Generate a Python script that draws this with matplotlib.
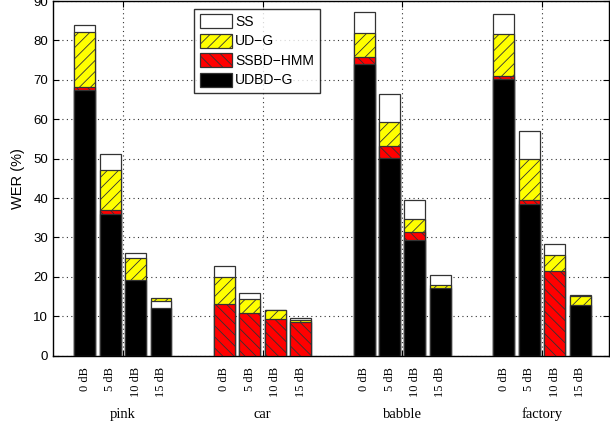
import numpy as np
import matplotlib.pyplot as plt
from matplotlib.transforms import blended_transform_factory

plt.rcParams['font.family'] = ['Liberation Sans', 'DejaVu Sans']
plt.rcParams['hatch.linewidth'] = 0.6
plt.rcParams['hatch.color'] = '#333333'

noises = ['pink', 'car', 'babble', 'factory']
snrs = ['0 dB', '5 dB', '10 dB', '15 dB']
methods = ['SS', 'UD\u2212G', 'SSBD\u2212HMM', 'UDBD\u2212G']

# WER (%) per noise type, SNR order 0/5/10/15 dB (nan = not shown)
wer_ss = [84.0, 51.1, 26.1, 13.9,
          22.8, 15.8, 11.7, 9.5,
          87.3, 66.4, 39.4, 20.4,
          86.7, 57.1, 28.3, 15.3]
wer_udg = [82.2, 47.1, 24.7, 14.6,
           19.9, 14.3, 11.5, 9.1,
           81.9, 59.2, 34.7, 18.0,
           81.6, 50.0, 25.6, 15.1]
wer_ssbd = [68.2, 37.0, np.nan, np.nan,
            13.0, 10.8, 9.3, 8.5,
            75.9, 53.3, 31.5, np.nan,
            71.1, 39.5, 21.4, np.nan]
wer_udbd = [67.4, 35.9, 19.2, 12.2,
            np.nan, np.nan, np.nan, np.nan,
            74.0, 50.1, 29.4, 17.2,
            70.2, 38.6, np.nan, 12.9]

series = [wer_ss, wer_udg, wer_ssbd, wer_udbd]
styles = [dict(color='white', hatch=None),
          dict(color='#ffff00', hatch='///'),
          dict(color='#ff0000', hatch='\\\\\\'),
          dict(color='black', hatch=None)]

fig = plt.figure(figsize=(6.1, 4.29), dpi=100)
ax = fig.add_axes([0.0869, 0.1709, 0.9115, 0.8266])

group_x = np.arange(1, len(noises) + 1)
step = 0.182
width = 0.15
handles = {}

for g in range(len(noises)):
    for s in range(len(snrs)):
        idx = g * len(snrs) + s
        x = group_x[g] + (s - 1.5) * step
        vals = [series[m][idx] for m in range(len(methods))]
        # tallest bar at the back, smaller ones drawn in front
        order = sorted([m for m in range(len(methods)) if not np.isnan(vals[m])],
                       key=lambda m: -vals[m])
        for z, m in enumerate(order):
            st = styles[m]
            b = ax.bar(x, vals[m], width, color=st['color'], hatch=st['hatch'],
                       edgecolor='#333333', linewidth=0.9, zorder=3 + z)
            handles.setdefault(m, b[0])

ax.set_xlim(0.5, 4.48)
ax.set_ylim(0, 90)
ax.set_yticks(range(0, 91, 10))
ax.set_xticks(group_x)
ax.set_xticklabels([])
ax.tick_params(direction='in', length=4, top=True, right=True, labelsize=9.5)
ax.grid(True, linestyle=(0, (1, 3)), color='#333333', linewidth=0.8, zorder=0)
ax.set_axisbelow(True)
for sp in ax.spines.values():
    sp.set_linewidth(1.0)
ax.set_ylabel('WER (%)', fontsize=10.5, labelpad=6)

trans = blended_transform_factory(ax.transData, ax.transAxes)
for g in range(len(noises)):
    for s in range(len(snrs)):
        x = group_x[g] + (s - 1.5) * step
        ax.text(x, -0.032, snrs[s], rotation=90, ha='center', va='top',
                family='Liberation Serif', fontsize=9, transform=trans)
    ax.text(group_x[g], -0.176, noises[g], ha='center', va='baseline',
            family='Liberation Serif', fontsize=10.5, transform=trans)

leg = ax.legend([handles[m] for m in range(len(methods))], methods,
                loc='upper left', bbox_to_anchor=(0.254, 0.978),
                fontsize=10, frameon=True, fancybox=False, edgecolor='black',
                handlelength=2.3, handleheight=1.15, handletextpad=0.25,
                labelspacing=0.35, borderpad=0.4, borderaxespad=0)
leg.get_frame().set_linewidth(1.0)
leg.set_zorder(20)

fig.savefig('out.png', dpi=100)
